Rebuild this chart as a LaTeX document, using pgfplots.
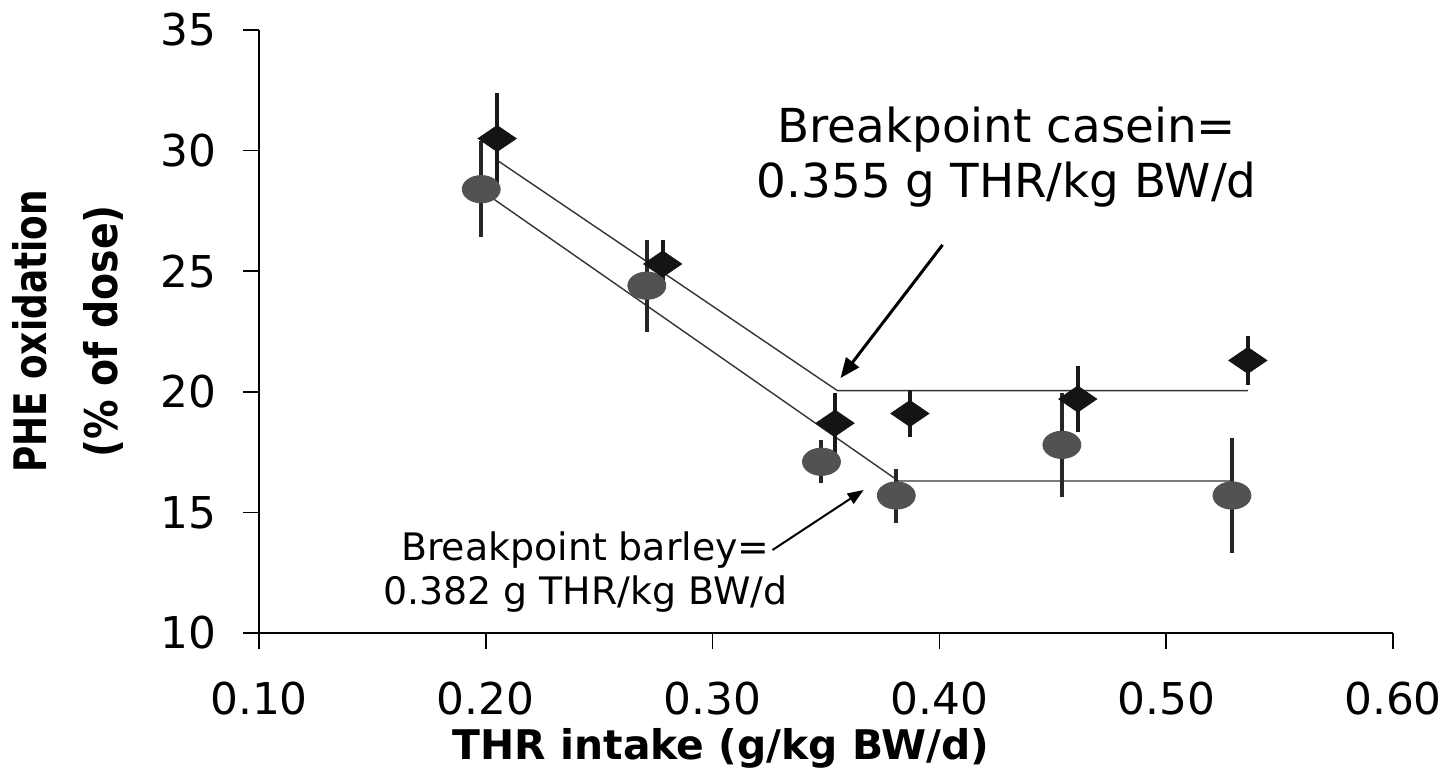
\documentclass[border=0pt]{standalone}
\usepackage{fontspec}
\setmainfont{DejaVu Sans}
\usepackage{graphicx}
\usepackage{pgfplots}
\pgfplotsset{compat=1.18}
\usetikzlibrary{arrows.meta}
\begin{document}
\begin{tikzpicture}
\begin{axis}[
  name=ax, at={(0,0)}, anchor=south west,
  scale only axis, width=567bp, height=301.5bp,
  xmin=0.1, xmax=0.6, ymin=10, ymax=35,
  axis x line*=bottom, axis y line*=left,
  axis line style={line width=0.75bp, black, -},
  xtick={0.1,0.2,0.3,0.4,0.5,0.6},
  ytick={10,15,20,25,30,35},
  tick align=outside,
  major tick length=8bp,
  tick style={line width=0.75bp, black},
  /pgf/number format/assume math mode=true,
  x tick label style={/pgf/number format/fixed, /pgf/number format/fixed zerofill, /pgf/number format/precision=2, yshift=-13bp},
  y tick label style={xshift=-10bp},
  ticklabel style={font=\fontsize{22}{26}\selectfont},
  xlabel={THR intake (g/kg BW/d)},
  xlabel style={at={(axis description cs:0.4074,-0.192)}, anchor=center, font=\fontsize{20.5}{23}\selectfont\bfseries},
  ylabel={\scalebox{0.8}[1]{PHE oxidation}\\\scalebox{0.88}[1]{(\% of dose)}},
  ylabel style={at={(axis description cs:-0.1684,0.5)}, anchor=center, align=center, font=\fontsize{22.5}{35.5}\selectfont\bfseries},
  clip=false,
]
% fitted broken-line models
\addplot[black!80, line width=0.7bp, mark=none] coordinates {(0.205,29.6) (0.355,20.05) (0.536,20.05)};
\addplot[black!80, line width=0.7bp, mark=none] coordinates {(0.198,28.35) (0.382,16.3) (0.529,16.3)};
% barley
\addplot[only marks, mark=*, mark size=9.5bp,
  mark options={yscale=0.72, fill=black!68, draw=black!68},
  error bars/.cd, y dir=both, y explicit,
  error bar style={line width=2bp, black!85}, error mark=none]
  table[x=x, y=y, y error=e] {
x y e
0.198 28.4 2.0
0.271 24.4 1.9
0.348 17.1 0.9
0.381 15.7 1.12
0.454 17.8 2.15
0.529 15.7 2.4
};
% casein
\addplot[only marks, mark=diamond*, mark size=10bp,
  mark options={xscale=1.27, yscale=0.65, fill=black!92, draw=black!92},
  error bars/.cd, y dir=both, y explicit,
  error bar style={line width=2bp, black!90}, error mark=none]
  table[x=x, y=y, y error=e] {
x y e
0.205 30.5 1.9
0.278 25.3 1.0
0.354 18.7 1.27
0.387 19.1 0.97
0.461 19.7 1.37
0.536 21.3 1.0
};
\node[align=center, font=\fontsize{23.5}{27.5}\selectfont] at (axis cs:0.4297,29.73) {Breakpoint casein=\\0.355 g THR/kg BW/d};
\draw[line width=1.5bp, -{Triangle[length=10bp,width=8bp]}] (axis cs:0.4014,26.09) -- (axis cs:0.3564,20.57);
\node[align=center, font=\fontsize{19}{22}\selectfont] at (axis cs:0.2439,12.53) {Breakpoint barley=\\0.382 g THR/kg BW/d};
\draw[line width=1bp, -{Triangle[length=8bp,width=6bp]}] (axis cs:0.3264,13.44) -- (axis cs:0.3666,15.93);
\end{axis}
\pgfresetboundingbox
\path[use as bounding box] (-129.5bp,-75bp) rectangle (594bp,316.5bp);
\end{tikzpicture}
\end{document}
